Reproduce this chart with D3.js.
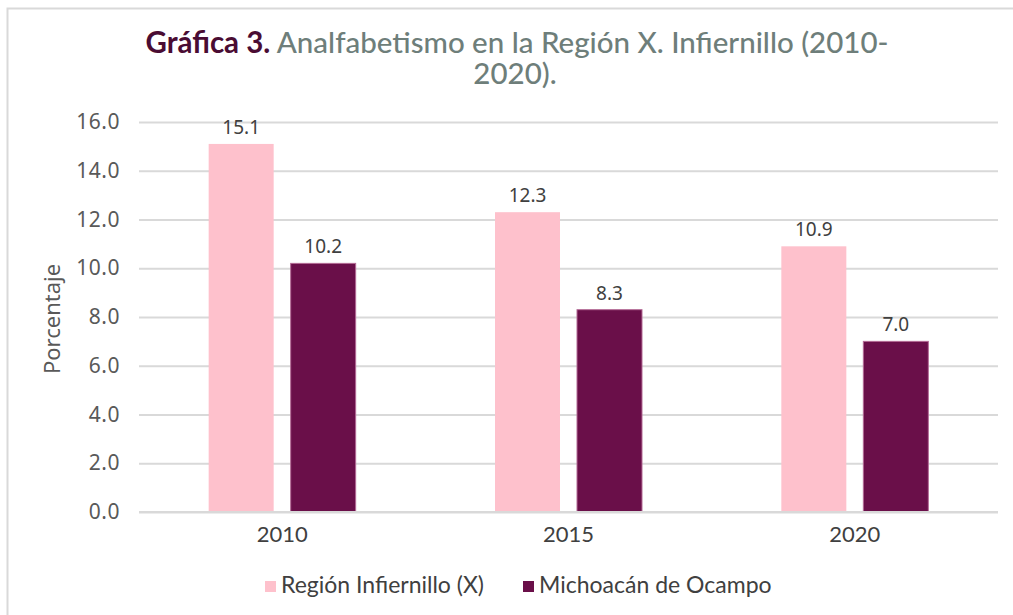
<!DOCTYPE html>
<html><head><meta charset="utf-8">
<script src="https://cdn.jsdelivr.net/npm/d3@7"></script>
<style>body{margin:0;background:#fff}svg{display:block}</style>
</head><body>
<svg id="c" width="1013" height="615"></svg>
<script>
const categories = ["2010", "2015", "2020"];
const seriesNames = ["Región Infiernillo (X)", "Michoacán de Ocampo"];
const region = [15.1, 12.3, 10.9];
const michoacan = [10.2, 8.3, 7.0];
const yTicks = [0, 2, 4, 6, 8, 10, 12, 14, 16];
const colors = ["#fec1cc", "#6a0f49"];

const svg = d3.select("#c");
const W = 1013, H = 615;
const m = {left: 139, right: 15, top: 122, bottom: 103};
const x0 = d3.scaleBand().domain(categories).range([m.left, W - m.right]).paddingInner(0).paddingOuter(0);
const y = d3.scaleLinear().domain([0, 16]).range([H - m.bottom, m.top]);
const hum = "Lato,'Open Sans',sans-serif";
const wide = "'Noto Sans',sans-serif";

// frame
svg.append("path").attr("d", `M7.5,${H} V8.5 H${W}`).attr("fill", "none").attr("stroke", "#d9d9d9").attr("stroke-width", 2);

// title
const title = svg.append("text").attr("text-anchor", "middle").style("font-family", hum).style("font-size", "29.5px").attr("font-weight", 500);
const l1 = title.append("tspan").attr("x", 517).attr("y", 53);
l1.append("tspan").attr("font-weight", "bold").attr("fill", "#4a0c33").text("Gráfica 3.");
l1.append("tspan").attr("fill", "#6e7e7a").text(" Analfabetismo en la Región X. Infiernillo (2010-");
title.append("tspan").attr("x", 515).attr("y", 84).attr("fill", "#6e7e7a").text("2020).");

// grid
const yAxis = d3.axisLeft(y).tickValues(yTicks).tickFormat(d3.format(".1f")).tickSize(-(W - m.left - m.right)).tickPadding(19);
const gy = svg.append("g").attr("transform", `translate(${m.left},0)`).call(yAxis);
gy.select(".domain").remove();
gy.selectAll(".tick line").attr("stroke", "#d9d9d9").attr("stroke-width", 2);
gy.selectAll(".tick text").attr("fill", "#595959").style("font-family", wide).style("font-size", "21px").style("letter-spacing", "0.5px");

// y title
svg.append("text").attr("transform", `translate(60,${(y(0) + y(16)) / 2 + 2}) rotate(-90)`).attr("text-anchor", "middle")
  .attr("fill", "#595959").style("font-family", wide).style("font-size", "22px").text("Porcentaje");

// bars
const barW = 65, gap = 17;
const data = categories.map((c, i) => ({c, vals: [region[i], michoacan[i]]}));
const g = svg.append("g");
data.forEach(d => {
  const cx = x0(d.c) + x0.bandwidth() / 2;
  d.vals.forEach((v, k) => {
    const bx = k === 0 ? cx - gap / 2 - barW : cx + gap / 2;
    g.append("rect").attr("x", bx).attr("y", y(v)).attr("width", barW).attr("height", y(0) - y(v))
      .attr("fill", colors[k]).attr("stroke", k === 1 ? "#b36a95" : "none").attr("stroke-width", 1);
    g.append("text").attr("x", bx + barW / 2).attr("y", y(v) - 10).attr("text-anchor", "middle")
      .attr("fill", "#404040").style("font-family", wide).style("font-size", "19px")
      .text(d3.format(".1f")(v));
  });
});

// baseline
svg.append("line").attr("x1", m.left).attr("x2", W - m.right).attr("y1", y(0)).attr("y2", y(0)).attr("stroke", "#d9d9d9").attr("stroke-width", 2);

// x labels
const xAxis = d3.axisBottom(x0).tickSize(0).tickPadding(14);
const gx = svg.append("g").attr("transform", `translate(0,${y(0)})`).call(xAxis);
gx.select(".domain").remove();
gx.selectAll("text").attr("fill", "#404040").style("font-family", hum).style("font-size", "22px");

// legend
const legX = [265, 523];
seriesNames.forEach((n, k) => {
  svg.append("rect").attr("x", legX[k]).attr("y", 581).attr("width", 11).attr("height", 11).attr("fill", colors[k]);
  svg.append("text").attr("x", legX[k] + 16).attr("y", 593).attr("fill", "#404040")
    .style("font-family", hum).style("font-size", "23px").text(n);
});
</script>
</body></html>
